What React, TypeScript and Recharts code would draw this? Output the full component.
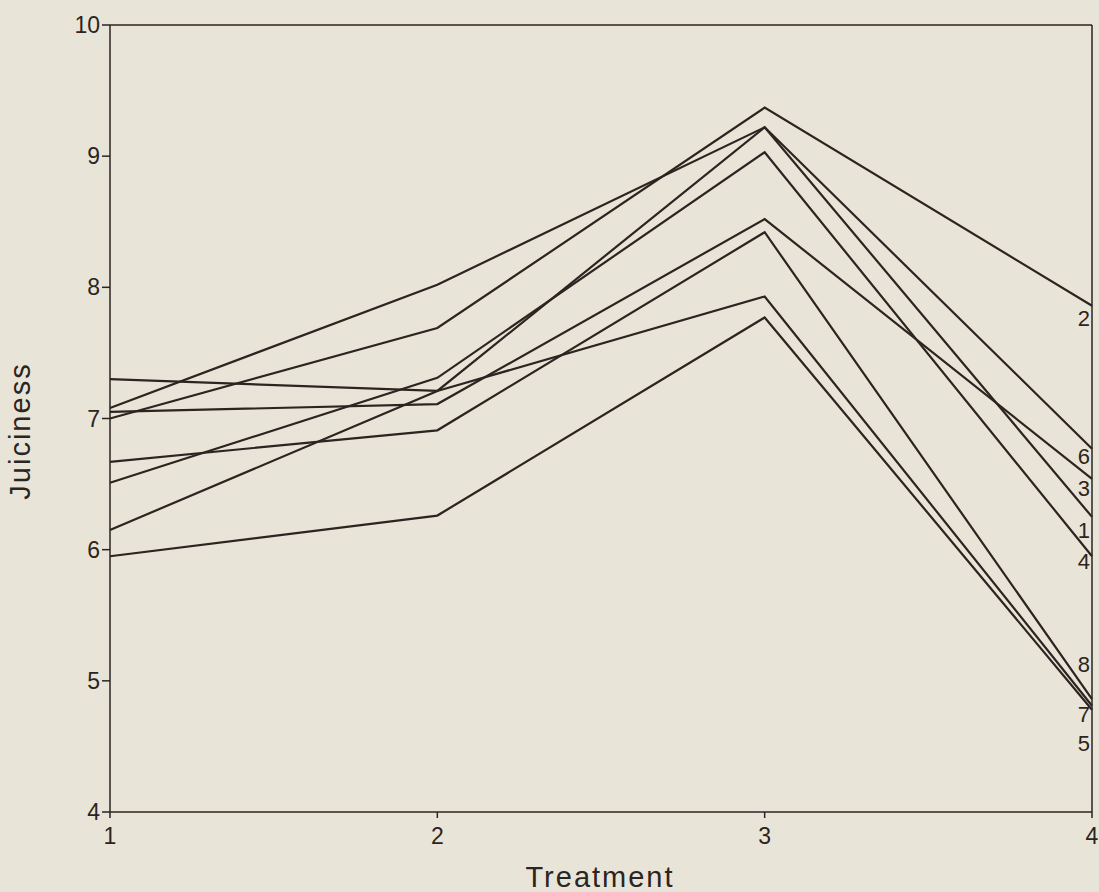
import { LineChart, Line, XAxis, YAxis, ReferenceLine } from 'recharts'

// treatment number on the x axis
const treatments = [1, 2, 3, 4]
const yTicks = [4, 5, 6, 7, 8, 9, 10]

// juiciness score per sample, one value per treatment
const sample1 = [6.15, 7.21, 9.22, 6.25]
const sample2 = [7.0, 7.69, 9.37, 7.86]
const sample3 = [7.05, 7.11, 8.52, 6.54]
const sample4 = [6.51, 7.31, 9.03, 5.95]
const sample5 = [5.95, 6.26, 7.77, 4.78]
const sample6 = [7.08, 8.02, 9.22, 6.77]
const sample7 = [7.3, 7.21, 7.93, 4.81]
const sample8 = [6.67, 6.91, 8.42, 4.86]

const samples = [
  { key: 's1', name: '1', values: sample1 },
  { key: 's2', name: '2', values: sample2 },
  { key: 's3', name: '3', values: sample3 },
  { key: 's4', name: '4', values: sample4 },
  { key: 's5', name: '5', values: sample5 },
  { key: 's6', name: '6', values: sample6 },
  { key: 's7', name: '7', values: sample7 },
  { key: 's8', name: '8', values: sample8 },
]

// vertical nudge of the end labels so they don't pile up
const labelShift: Record<string, number> = { '1': 13, '2': 12, '3': 9, '4': 5, '5': 33, '6': 7, '7': 8, '8': -35 }

const rows = treatments.map((t, i) => {
  const r: Record<string, number> = { t }
  samples.forEach(s => { r[s.key] = s.values[i] })
  return r
})

const ink = '#2b2420'
const font = '"Liberation Sans", Arial, sans-serif'

export default function App() {
  return (
    <div style={{ position: 'absolute', left: 0, top: 0, width: 1099, height: 892, background: '#e9e4d8' }}>
      <LineChart width={1099} height={892} data={rows} margin={{ top: 25, right: 7, left: 0, bottom: 0 }}>
        <XAxis
          dataKey="t"
          type="number"
          domain={[1, 4]}
          ticks={treatments}
          height={80}
          stroke={ink}
          strokeWidth={1.5}
          tickSize={6}
          tickMargin={10}
          tick={{ fill: ink, fontSize: 23, fontFamily: font }}
          label={{
            content: () => (
              <text x={600} y={887} textAnchor="middle" fill={ink} fontSize={29} fontFamily={font} letterSpacing={2}>
                Treatment
              </text>
            ),
          }}
        />
        <YAxis
          type="number"
          domain={[4, 10]}
          ticks={yTicks}
          width={110}
          stroke={ink}
          strokeWidth={1.5}
          tickSize={8}
          tickMargin={2}
          tick={{ fill: ink, fontSize: 23, fontFamily: font }}
          label={{
            content: () => (
              <text x={30} y={431} transform="rotate(-90 30 431)" textAnchor="middle" fill={ink} fontSize={29} fontFamily={font} letterSpacing={2}>
                Juiciness
              </text>
            ),
          }}
        />
        <ReferenceLine y={10} stroke={ink} strokeWidth={1.5} />
        <ReferenceLine x={4} stroke={ink} strokeWidth={1.5} />
        {samples.map(s => (
          <Line
            key={s.key}
            type="linear"
            dataKey={s.key}
            stroke={ink}
            strokeWidth={2.2}
            dot={false}
            isAnimationActive={false}
            label={(p: any) =>
              p.index === treatments.length - 1 ? (
                <text x={p.x - 2} y={p.y + labelShift[s.name] + 8} textAnchor="end" fill={ink} fontSize={22} fontFamily={font}>
                  {s.name}
                </text>
              ) : (
                <g />
              )
            }
          />
        ))}
      </LineChart>
    </div>
  )
}
